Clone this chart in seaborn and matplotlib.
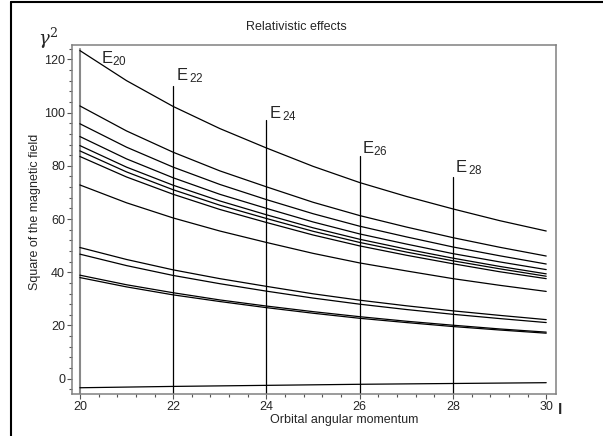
import numpy as np
import pandas as pd
import matplotlib
matplotlib.use('Agg')
import matplotlib.pyplot as plt
from matplotlib.ticker import MultipleLocator
from matplotlib.lines import Line2D
import seaborn as sns

## 数据: 轨道角动量 l 以及各条曲线 gamma^2(l)
l_values = [20, 21, 22, 23, 24, 25, 26, 27, 28, 29, 30]
curve_1 = [123.3, 112.0, 102.3, 94.0, 86.7, 79.8, 73.7, 68.5, 63.8, 59.4, 55.5]
curve_2 = [102.5, 93.1, 85.1, 78.1, 72.1, 66.3, 61.3, 57.0, 53.0, 49.4, 46.1]
curve_3 = [95.8, 87.0, 79.5, 73.0, 67.3, 62.0, 57.3, 53.3, 49.5, 46.2, 43.1]
curve_4 = [91.0, 82.6, 75.5, 69.3, 64.0, 58.9, 54.4, 50.6, 47.0, 43.9, 41.0]
curve_5 = [87.6, 79.5, 72.7, 66.8, 61.6, 56.7, 52.4, 48.7, 45.3, 42.2, 39.4]
curve_6 = [85.6, 77.7, 71.0, 65.2, 60.2, 55.4, 51.2, 47.6, 44.3, 41.3, 38.5]
curve_7 = [83.5, 75.8, 69.3, 63.6, 58.7, 54.0, 49.9, 46.4, 43.2, 40.2, 37.6]
curve_8 = [72.8, 66.1, 60.4, 55.5, 51.2, 47.1, 43.5, 40.5, 37.6, 35.1, 32.8]
curve_9 = [49.3, 44.8, 40.9, 37.6, 34.7, 31.9, 29.5, 27.4, 25.5, 23.8, 22.2]
curve_10 = [46.8, 42.5, 38.8, 35.7, 32.9, 30.3, 28.0, 26.0, 24.2, 22.6, 21.1]
curve_11 = [38.9, 35.3, 32.3, 29.6, 27.3, 25.2, 23.3, 21.6, 20.1, 18.7, 17.5]
curve_12 = [38.0, 34.5, 31.5, 29.0, 26.7, 24.6, 22.7, 21.1, 19.6, 18.3, 17.1]
curve_13 = [-3.4, -3.15, -2.9, -2.7, -2.5, -2.3, -2.1, -1.95, -1.8, -1.65, -1.5]

## 能级竖线 E_l
e_positions = [20, 22, 24, 26, 28]
e_tops = [124.0, 110.0, 97.3, 83.7, 75.9]
e_labels = ['20', '22', '24', '26', '28']

curves = [curve_1, curve_2, curve_3, curve_4, curve_5, curve_6, curve_7,
          curve_8, curve_9, curve_10, curve_11, curve_12, curve_13]
rows = []
for k, c in enumerate(curves):
    for x, y in zip(l_values, c):
        rows.append({'l': x, 'g2': y, 'curve': k})
df = pd.DataFrame(rows)

sns.set_style('ticks')
plt.rcParams['font.family'] = ['Liberation Sans', 'DejaVu Sans']
plt.rcParams['mathtext.fontset'] = 'custom'
plt.rcParams['mathtext.rm'] = 'Liberation Sans'

fig = plt.figure(figsize=(6.03, 4.36), dpi=100)
ax = fig.add_axes([72/603, 42/436, 484/603, 349/436])

sns.lineplot(data=df, x='l', y='g2', units='curve', estimator=None,
             color='black', linewidth=0.9, ax=ax, legend=False)

ymin, ymax = -5.75, 125.4
for i, (xp, top) in enumerate(zip(e_positions, e_tops)):
    col = '#888888' if i == 0 else 'black'
    lw = 1.5 if i == 0 else 0.9
    ax.plot([xp, xp], [ymin, top], color=col, linewidth=lw, zorder=1)

# 标签位置 (数据坐标, 基线)
label_pos = [(20.45, 118.7), (22.05, 112.3), (24.05, 98.0), (26.05, 84.8), (28.05, 77.7)]
spaced = [False, True, True, False, True]
for (lx, ly), lab, sp in zip(label_pos, e_labels, spaced):
    s = r'$\mathregular{E_{\,' + lab + '}}$' if sp else r'$\mathregular{E_{' + lab + '}}$'
    ax.text(lx, ly, s, fontsize=12, ha='left', va='baseline')

ax.set_xlim(19.83, 30.21)
ax.set_ylim(ymin, ymax)
ax.xaxis.set_major_locator(MultipleLocator(2))
ax.xaxis.set_minor_locator(MultipleLocator(0.4))
ax.yaxis.set_major_locator(MultipleLocator(20))
ax.yaxis.set_minor_locator(MultipleLocator(4))
ax.tick_params(which='major', direction='out', length=3.5, width=0.8, color='#555555',
               labelsize=9, pad=1.5)
ax.tick_params(which='minor', direction='out', length=2, width=0.8, color='#555555')
for sp in ax.spines.values():
    sp.set_visible(True)
    sp.set_color('#808080')
    sp.set_linewidth(1.1)
ax.set_xlabel('')
ax.set_ylabel('')

fig.text(296/603, 1 - 27/436, 'Relativistic effects', fontsize=9, ha='center', va='center')
fig.text(35/603, 1 - 212/436, 'Square of the magnetic field', fontsize=9,
         rotation=90, ha='center', va='center')
fig.text(344/603, 1 - 420/436, 'Orbital angular momentum', fontsize=9, ha='center', va='center')
fig.text(48/603, 1 - 38/436, r'$\gamma^2$', fontsize=13, ha='center', va='center',
         family='DejaVu Serif', math_fontfamily='dejavuserif')
fig.text(560/603, 1 - 410/436, 'l', fontsize=11, fontweight='bold', ha='center', va='center')

# 外框
fig.add_artist(Line2D([11/603, 11/603], [0, 1 - 2/436], color='black', linewidth=1.5))
fig.add_artist(Line2D([11/603, 1], [1 - 2/436, 1 - 2/436], color='black', linewidth=1.5))

plt.savefig('out.png', dpi=100)
